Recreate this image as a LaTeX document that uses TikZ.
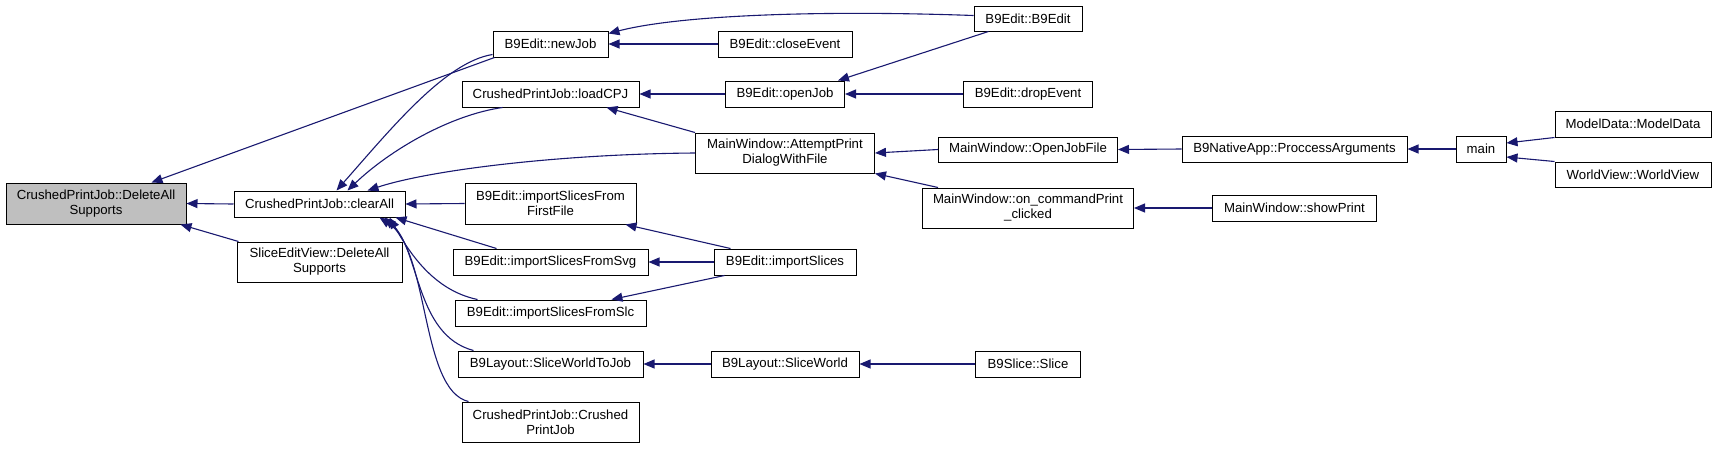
\documentclass[tikz,border=0pt]{standalone}
\usepackage{fontspec}
\setmainfont{Liberation Sans}
\usetikzlibrary{arrows.meta}
\definecolor{edgeblue}{HTML}{191970}
\definecolor{selgray}{HTML}{BFBFBF}
\tikzset{
  fnbox/.style={draw=black, line width=1pt, fill=white, inner sep=0pt, align=center,
    font=\fontsize{13.2}{15}\selectfont},
  edge/.style={draw=edgeblue, line width=1.1pt, {Triangle[length=11pt,width=9pt]}-}
}
\begin{document}
\begin{tikzpicture}[x=1pt,y=-1pt]
\useasboundingbox (0,0) rectangle (1717,448);
% rank 0
\node[fnbox, fill=selgray, minimum width=180pt, minimum height=41pt] (del) at (96,203.5) {CrushedPrintJob::DeleteAll\\Supports};
% rank 1
\node[fnbox, minimum width=171pt, minimum height=26pt] (clr) at (319.5,204) {CrushedPrintJob::clearAll};
\node[fnbox, minimum width=165pt, minimum height=40pt] (sev) at (319.5,262) {SliceEditView::DeleteAll\\Supports};
% rank 2
\node[fnbox, minimum width=115pt, minimum height=26pt] (newjob) at (550.5,44) {B9Edit::newJob};
\node[fnbox, minimum width=177pt, minimum height=26pt] (loadcpj) at (550.5,94) {CrushedPrintJob::loadCPJ};
\node[fnbox, minimum width=171pt, minimum height=41pt] (ffirst) at (550.5,203.5) {B9Edit::importSlicesFrom\\FirstFile};
\node[fnbox, minimum width=195pt, minimum height=26pt] (fsvg) at (550.5,262) {B9Edit::importSlicesFromSvg};
\node[fnbox, minimum width=191pt, minimum height=26pt] (fslc) at (550.5,313) {B9Edit::importSlicesFromSlc};
\node[fnbox, minimum width=185pt, minimum height=26pt] (swtj) at (550.5,364) {B9Layout::SliceWorldToJob};
\node[fnbox, minimum width=177pt, minimum height=40pt] (cpj) at (550.5,422) {CrushedPrintJob::Crushed\\PrintJob};
% rank 3
\node[fnbox, minimum width=134pt, minimum height=26pt] (close) at (785,44) {B9Edit::closeEvent};
\node[fnbox, minimum width=119pt, minimum height=26pt] (openjob) at (785,94) {B9Edit::openJob};
\node[fnbox, minimum width=179pt, minimum height=40pt] (attempt) at (785,153) {MainWindow::AttemptPrint\\DialogWithFile};
\node[fnbox, minimum width=142pt, minimum height=26pt] (imps) at (785,262) {B9Edit::importSlices};
\node[fnbox, minimum width=148pt, minimum height=26pt] (sw) at (785,364) {B9Layout::SliceWorld};
% rank 4
\node[fnbox, minimum width=108pt, minimum height=25pt] (b9edit) at (1028,18.5) {B9Edit::B9Edit};
\node[fnbox, minimum width=129pt, minimum height=26pt] (drop) at (1028,94) {B9Edit::dropEvent};
\node[fnbox, minimum width=179pt, minimum height=25pt] (openjf) at (1028,149.5) {MainWindow::OpenJobFile};
\node[fnbox, minimum width=211pt, minimum height=40pt] (oncmd) at (1028,208) {MainWindow::on\_commandPrint\\\_clicked};
\node[fnbox, minimum width=105pt, minimum height=26pt] (slice) at (1028,364) {B9Slice::Slice};
% rank 5
\node[fnbox, minimum width=225pt, minimum height=26pt] (proc) at (1294.5,149) {B9NativeApp::ProccessArguments};
\node[fnbox, minimum width=164pt, minimum height=26pt] (show) at (1294.5,208) {MainWindow::showPrint};
% rank 6
\node[fnbox, minimum width=50pt, minimum height=26pt] (main) at (1481,149) {main};
% rank 7
\node[fnbox, minimum width=156pt, minimum height=26pt] (model) at (1633,124) {ModelData::ModelData};
\node[fnbox, minimum width=156pt, minimum height=25pt] (world) at (1633,174.5) {WorldView::WorldView};

% edges into DeleteAllSupports
\draw[edge] (del.east) -- (clr.west);
\draw[edge] ([xshift=146pt]del.north west) -- ([xshift=2pt]newjob.south west);
\draw[edge] ([xshift=-6pt]del.south east) -- ([xshift=2pt]sev.north west);
% edges into clearAll
\draw[edge] ([xshift=103pt]clr.north west) .. controls (390,130) and (445,62) .. ([yshift=3pt]newjob.south west);
\draw[edge] ([xshift=114pt]clr.north west) .. controls (390,150) and (450,115) .. ([xshift=41pt]loadcpj.south west);
\draw[edge] ([xshift=134pt]clr.north west) .. controls (430,170) and (560,154) .. (attempt.west);
\draw[edge] (clr.east) -- (ffirst.west);
\draw[edge] ([xshift=-10pt]clr.south east) -- ([xshift=44pt]fsvg.north west);
\draw[edge] ([xshift=-16pt]clr.south east) .. controls (408,250) and (432,290) .. ([xshift=23pt]fslc.north west);
\draw[edge] ([xshift=-21pt]clr.south east) .. controls (420,250) and (415,335) .. ([xshift=16pt]swtj.north west);
\draw[edge] ([xshift=-26pt]clr.south east) .. controls (430,250) and (420,390) .. ([xshift=7pt]cpj.north west);
% rank 2 <- rank 3/4
\draw[edge] ([yshift=-3pt]newjob.north east) .. controls (680,15) and (820,10) .. ([yshift=3pt]b9edit.west);
\draw[edge] (newjob.east) -- (close.west);
\draw[edge] (loadcpj.east) -- (openjob.west);
\draw[edge] ([xshift=-33pt]loadcpj.south east) -- (attempt.north west);
\draw[edge] ([xshift=-11pt]ffirst.south east) -- ([xshift=17pt]imps.north west);
\draw[edge] (fsvg.east) -- (imps.west);
\draw[edge] ([xshift=-35pt]fslc.north east) -- ([xshift=11pt]imps.south west);
\draw[edge] (swtj.east) -- (sw.west);
% rank 3 <- rank 4
\draw[edge] ([xshift=-7pt]openjob.north east) -- ([xshift=15pt]b9edit.south west);
\draw[edge] (openjob.east) -- (drop.west);
\draw[edge] (attempt.east) -- (openjf.west);
\draw[edge] (attempt.south east) -- ([xshift=16pt]oncmd.north west);
\draw[edge] (sw.east) -- (slice.west);
% rank 4 <- rank 5
\draw[edge] (openjf.east) -- (proc.west);
\draw[edge] (oncmd.east) -- (show.west);
\draw[edge] (proc.east) -- (main.west);
\draw[edge] ([yshift=6pt]main.east) -- (model.south west);
\draw[edge] ([yshift=-8pt]main.east) -- (world.north west);
\end{tikzpicture}
\end{document}
